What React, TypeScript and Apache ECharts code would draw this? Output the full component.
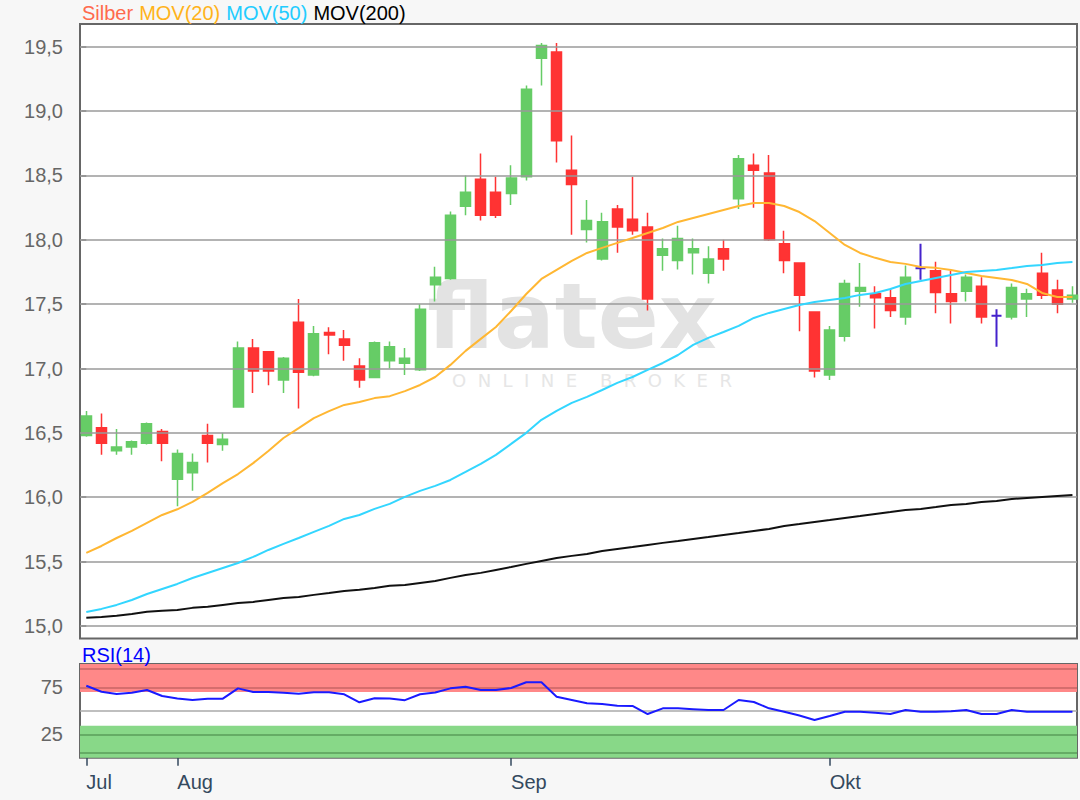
import React, { useEffect, useRef } from "react";
import * as echarts from "echarts";

// Trading days (categories)
const days = [
  "2019-07-24", "2019-07-25", "2019-07-26", "2019-07-29", "2019-07-30", "2019-07-31",
  "2019-08-01", "2019-08-02", "2019-08-05", "2019-08-06", "2019-08-07", "2019-08-08", "2019-08-09",
  "2019-08-12", "2019-08-13", "2019-08-14", "2019-08-15", "2019-08-16", "2019-08-19", "2019-08-20",
  "2019-08-21", "2019-08-22", "2019-08-23", "2019-08-26", "2019-08-27", "2019-08-28", "2019-08-29",
  "2019-08-30",
  "2019-09-02", "2019-09-03", "2019-09-04", "2019-09-05", "2019-09-06", "2019-09-09", "2019-09-10",
  "2019-09-11", "2019-09-12", "2019-09-13", "2019-09-16", "2019-09-17", "2019-09-18", "2019-09-19",
  "2019-09-20", "2019-09-23", "2019-09-24", "2019-09-25", "2019-09-26", "2019-09-27", "2019-09-30",
  "2019-10-01", "2019-10-02", "2019-10-03", "2019-10-04", "2019-10-07", "2019-10-08", "2019-10-09",
  "2019-10-10", "2019-10-11", "2019-10-14", "2019-10-15", "2019-10-16", "2019-10-17", "2019-10-18",
  "2019-10-21", "2019-10-22", "2019-10-23",
];

const openP = [
  16.48, 16.54, 16.36, 16.39, 16.42, 16.51, 16.14, 16.19, 16.48, 16.41,
  16.70, 17.16, 17.13, 16.91, 17.36, 16.95, 17.28, 17.23, 17.02, 16.93,
  17.06, 17.04, 16.99, 17.65, 17.70, 18.26, 18.47, 18.37, 18.36, 18.49,
  19.41, 19.46, 18.54, 18.08, 17.85, 18.24, 18.16, 18.10, 17.88, 17.84,
  17.90, 17.74, 17.93, 18.32, 18.58, 18.52, 17.97, 17.82, 17.44, 16.95,
  17.25, 17.60, 17.58, 17.55, 17.40, 17.78, 17.76, 17.58, 17.60, 17.64,
  17.41, 17.40, 17.54, 17.74, 17.61, 17.54,
];
const closeP = [
  16.63, 16.42, 16.39, 16.43, 16.57, 16.42, 16.34, 16.27, 16.42, 16.45,
  17.16, 16.98, 16.98, 17.08, 16.97, 17.27, 17.26, 17.18, 16.91, 17.20,
  17.17, 17.08, 17.46, 17.71, 18.19, 18.37, 18.19, 18.19, 18.48, 19.17,
  19.51, 18.77, 18.43, 18.15, 18.14, 18.10, 18.07, 17.54, 17.93, 18.01,
  17.93, 17.85, 17.85, 18.63, 18.54, 18.00, 17.84, 17.57, 16.98, 17.30,
  17.66, 17.63, 17.55, 17.45, 17.71, 17.78, 17.59, 17.52, 17.71, 17.40,
  17.41, 17.63, 17.58, 17.57, 17.50, 17.57,
];
const lowP = [
  16.47, 16.33, 16.33, 16.33, 16.41, 16.28, 15.93, 16.05, 16.27, 16.36,
  16.70, 16.81, 16.87, 16.81, 16.69, 16.94, 17.11, 17.06, 16.85, 16.93,
  17.00, 16.95, 16.98, 17.52, 17.69, 18.19, 18.15, 18.17, 18.27, 18.46,
  19.20, 18.60, 18.04, 17.98, 17.84, 17.90, 18.04, 17.45, 17.76, 17.77,
  17.73, 17.66, 17.76, 18.24, 18.25, 17.99, 17.74, 17.29, 16.93, 16.91,
  17.21, 17.48, 17.31, 17.40, 17.34, 17.69, 17.43, 17.35, 17.52, 17.35,
  17.17, 17.38, 17.40, 17.54, 17.43, 17.51,
];
const highP = [
  16.67, 16.65, 16.53, 16.44, 16.58, 16.53, 16.37, 16.34, 16.57, 16.50,
  17.21, 17.23, 17.13, 17.09, 17.54, 17.33, 17.32, 17.30, 17.08, 17.21,
  17.21, 17.16, 17.50, 17.79, 18.22, 18.50, 18.67, 18.49, 18.58, 19.20,
  19.53, 19.53, 18.81, 18.31, 18.21, 18.27, 18.49, 18.21, 18.01, 18.11,
  18.01, 17.95, 18.00, 18.66, 18.67, 18.66, 18.07, 17.82, 17.44, 17.33,
  17.69, 17.82, 17.64, 17.62, 17.80, 17.97, 17.83, 17.76, 17.73, 17.71,
  17.46, 17.66, 17.62, 17.90, 17.69, 17.64,
];

const mov20 = [
  15.567, 15.621, 15.683, 15.738, 15.800, 15.862, 15.906, 15.963, 16.033, 16.110,
  16.180, 16.265, 16.359, 16.460, 16.537, 16.615, 16.669, 16.717, 16.740, 16.770,
  16.785, 16.824, 16.872, 16.934, 17.028, 17.137, 17.230, 17.323, 17.447, 17.579,
  17.696, 17.766, 17.836, 17.898, 17.937, 17.976, 18.014, 18.053, 18.092, 18.139,
  18.170, 18.201, 18.232, 18.263, 18.286, 18.286, 18.263, 18.216, 18.146, 18.053,
  17.960, 17.898, 17.860, 17.828, 17.813, 17.789, 17.782, 17.766, 17.742, 17.719,
  17.704, 17.688, 17.657, 17.587, 17.556, 17.556,
];
const mov50 = [
  15.108, 15.132, 15.163, 15.201, 15.248, 15.287, 15.326, 15.372, 15.411, 15.450,
  15.489, 15.536, 15.590, 15.637, 15.683, 15.730, 15.777, 15.831, 15.862, 15.909,
  15.948, 16.002, 16.049, 16.088, 16.134, 16.196, 16.259, 16.329, 16.414, 16.500,
  16.601, 16.671, 16.733, 16.780, 16.833, 16.888, 16.934, 16.989, 17.043, 17.105,
  17.183, 17.238, 17.284, 17.331, 17.393, 17.432, 17.463, 17.494, 17.517, 17.533,
  17.548, 17.572, 17.587, 17.618, 17.657, 17.680, 17.704, 17.727, 17.750, 17.758,
  17.766, 17.781, 17.797, 17.805, 17.820, 17.828,
];
const mov200 = [
  15.063, 15.070, 15.078, 15.093, 15.109, 15.117, 15.124, 15.140, 15.148, 15.163,
  15.178, 15.186, 15.202, 15.217, 15.225, 15.241, 15.256, 15.272, 15.280, 15.295,
  15.311, 15.318, 15.334, 15.349, 15.373, 15.396, 15.412, 15.435, 15.458, 15.482,
  15.505, 15.528, 15.544, 15.559, 15.582, 15.598, 15.613, 15.629, 15.645, 15.660,
  15.676, 15.691, 15.707, 15.722, 15.738, 15.753, 15.777, 15.792, 15.808, 15.823,
  15.839, 15.854, 15.870, 15.885, 15.901, 15.909, 15.924, 15.940, 15.948, 15.963,
  15.971, 15.986, 15.994, 16.002, 16.010, 16.017,
];
const rsi14 = [
  76.8, 70.4, 68.0, 69.4, 72.2, 65.8, 63.3, 61.6, 63.0, 63.0,
  74.0, 70.2, 70.1, 69.2, 68.2, 69.9, 69.8, 67.7, 59.1, 63.4,
  63.3, 61.4, 67.7, 69.6, 74.0, 75.7, 72.3, 72.3, 74.4, 80.5,
  80.5, 65.1, 61.6, 58.1, 57.3, 55.4, 55.2, 46.6, 52.7, 52.7,
  51.8, 50.9, 50.9, 61.6, 59.4, 52.7, 49.1, 45.0, 40.2, 44.5,
  49.1, 49.1, 48.0, 46.6, 50.9, 49.1, 49.1, 49.5, 50.9, 46.6,
  46.6, 50.9, 49.1, 49.1, 49.1, 49.1,
];

const priceTicks = [15, 15.5, 16, 16.5, 17, 17.5, 18, 18.5, 19, 19.5];
const rsiTicks = [25, 75];
const rsiRedGuides = [95, 75];
const rsiGreenGuides = [25, 5];
const monthNames = ["Jan", "Feb", "Mär", "Apr", "Mai", "Jun", "Jul", "Aug", "Sep", "Okt", "Nov", "Dez"];

const FONT = "Liberation Sans, Arial, sans-serif";
const UP = "#66cc66";
const DOWN = "#ff3333";
const DOJI = "#4422cc";

export default function App() {
  const ref = useRef<HTMLDivElement>(null);

  useEffect(() => {
    if (!ref.current) return;
    const chart = echarts.init(ref.current, null, { renderer: "svg" });

    const monthStarts: number[] = [];
    days.forEach((d, i) => {
      if (i === 0 || d.slice(5, 7) !== days[i - 1].slice(5, 7)) monthStarts.push(i);
    });
    const monthLabel = (v: number) => {
      const d = days[Math.round(v)];
      return d ? monthNames[parseInt(d.slice(5, 7), 10) - 1] : "";
    };

    const candleData = days.map((_, i) => {
      const item: any = { value: [i, openP[i], closeP[i], lowP[i], highP[i]] };
      if (openP[i] === closeP[i]) {
        item.itemStyle = { color: DOJI, color0: DOJI, borderColor: DOJI, borderColor0: DOJI, borderWidth: 2 };
      }
      return item;
    });
    const toXY = (arr: number[]) => arr.map((v, i) => [i, v]);

    const xMin = -0.415;
    const xMax = 65.3;

    const hiddenIcon = {
      color: "transparent", borderColor: "transparent", borderWidth: 0, opacity: 0,
    };

    const option: any = {
      animation: false,
      backgroundColor: "#f7f7f7",
      textStyle: { fontFamily: FONT },
      legend: [
        {
          left: 77,
          top: 3,
          padding: 0,
          itemWidth: 0,
          itemHeight: 20,
          itemGap: 1,
          icon: "rect",
          itemStyle: hiddenIcon,
          lineStyle: { opacity: 0, width: 0 },
          selectedMode: false,
          textStyle: { fontSize: 20, fontFamily: FONT },
          data: [
            { name: "Silber", textStyle: { color: "#ff6a4d" } },
            { name: "MOV(20)", textStyle: { color: "#ffb31a" } },
            { name: "MOV(50)", textStyle: { color: "#22ccff" } },
            { name: "MOV(200)", textStyle: { color: "#000000" } },
          ],
        },
        {
          left: 77,
          top: 645,
          padding: 0,
          itemWidth: 0,
          itemHeight: 20,
          icon: "rect",
          itemStyle: hiddenIcon,
          lineStyle: { opacity: 0, width: 0 },
          selectedMode: false,
          textStyle: { fontSize: 20, fontFamily: FONT, color: "#0000ff" },
          data: [{ name: "RSI(14)" }],
        },
      ],
      grid: [
        {
          left: 80, top: 24, width: 997, height: 614.5,
          show: true, backgroundColor: "#ffffff", borderColor: "#666666", borderWidth: 2,
        },
        {
          left: 80, top: 664, width: 997, height: 93.7,
          show: true, backgroundColor: "#ffffff", borderColor: "#666666", borderWidth: 2,
        },
      ],
      xAxis: [
        {
          gridIndex: 0, type: "value", min: xMin, max: xMax,
          axisLine: { show: false }, axisTick: { show: false }, axisLabel: { show: false },
          splitLine: { show: false },
        },
        {
          gridIndex: 1, type: "value", min: xMin, max: xMax,
          axisLine: { show: false },
          axisTick: {
            show: true, customValues: monthStarts, length: 8,
            lineStyle: { color: "#34495e", width: 1.5 },
          },
          axisLabel: {
            customValues: monthStarts, formatter: monthLabel, align: "left",
            color: "#34495e", fontSize: 20, fontFamily: FONT, margin: 14,
          },
          splitLine: { show: false },
        },
      ],
      yAxis: [
        {
          gridIndex: 0, type: "value", min: 14.902, max: 19.677,
          axisLine: { show: false },
          axisTick: { show: true, customValues: priceTicks, length: 5, lineStyle: { color: "#666666", width: 1.5 } },
          axisLabel: {
            customValues: priceTicks,
            formatter: (v: number) => v.toFixed(1).replace(".", ","),
            color: "#666666", fontSize: 20, fontFamily: FONT, margin: 17,
          },
          splitLine: { show: false },
        },
        {
          gridIndex: 1, type: "value", min: 0, max: 100,
          axisLine: { show: false },
          axisTick: { show: true, customValues: rsiTicks, length: 5, lineStyle: { color: "#666666", width: 1.5 } },
          axisLabel: {
            customValues: rsiTicks, color: "#666666", fontSize: 20, fontFamily: FONT, margin: 17,
          },
          splitLine: { show: false },
        },
      ],
      graphic: [
        {
          type: "group",
          z: 1,
          silent: true,
          children: [
            {
              type: "text",
              x: 572, y: 316,
              style: {
                text: "flatex", fill: "#e3e3e3", fontSize: 90, fontWeight: "bold",
                fontFamily: "DejaVu Sans", align: "center", verticalAlign: "middle",
              },
            },
            {
              type: "text",
              x: 592, y: 380,
              style: {
                text: "O  N  L  I  N  E    B  R  O  K  E  R", fill: "#e6e6e6", fontSize: 18,
                fontFamily: "DejaVu Sans", align: "center", verticalAlign: "middle",
              },
            },
          ],
        },
      ],
      series: [
        {
          name: "grid",
          type: "line",
          xAxisIndex: 0, yAxisIndex: 0,
          data: [],
          z: 2,
          silent: true,
          markLine: {
            silent: true, symbol: ["none", "none"], label: { show: false },
            lineStyle: { color: "#9a9a9a", width: 1.5, type: "solid" },
            data: priceTicks.map((v) => ({ yAxis: v })),
          },
        },
        {
          name: "Silber",
          type: "candlestick",
          xAxisIndex: 0, yAxisIndex: 0,
          z: 4,
          clip: false,
          barWidth: 10.5,
          itemStyle: { color: UP, color0: DOWN, borderColor: UP, borderColor0: DOWN, borderWidth: 1.5 },
          data: candleData,
        },
        {
          name: "MOV(20)", type: "line", xAxisIndex: 0, yAxisIndex: 0, z: 5,
          symbol: "none", lineStyle: { color: "#ffb733", width: 2 }, itemStyle: { color: "#ffb31a" },
          data: toXY(mov20),
        },
        {
          name: "MOV(50)", type: "line", xAxisIndex: 0, yAxisIndex: 0, z: 5,
          symbol: "none", lineStyle: { color: "#33d6ff", width: 2 }, itemStyle: { color: "#22ccff" },
          data: toXY(mov50),
        },
        {
          name: "MOV(200)", type: "line", xAxisIndex: 0, yAxisIndex: 0, z: 5,
          symbol: "none", lineStyle: { color: "#111111", width: 2 }, itemStyle: { color: "#000" },
          data: toXY(mov200),
        },
        {
          name: "RSI(14)", type: "line", xAxisIndex: 1, yAxisIndex: 1, z: 5,
          symbol: "none", lineStyle: { color: "#1a1aff", width: 2 }, itemStyle: { color: "#0000ff" },
          data: toXY(rsi14),
          markArea: {
            silent: true,
            data: [
              [{ yAxis: 70, itemStyle: { color: "#ff8888" } }, { yAxis: 100 }],
              [{ yAxis: 0, itemStyle: { color: "#88d888" } }, { yAxis: 34 }],
            ],
          },
          markLine: {
            silent: true, symbol: ["none", "none"], label: { show: false },
            data: [
              ...rsiRedGuides.map((v) => ({ yAxis: v, lineStyle: { color: "#c86464", width: 1.5, type: "solid" } })),
              { yAxis: 50, lineStyle: { color: "#aaaaaa", width: 1.5, type: "solid" } },
              ...rsiGreenGuides.map((v) => ({ yAxis: v, lineStyle: { color: "#5a9e5a", width: 1.5, type: "solid" } })),
            ],
          },
        },
      ],
    };

    chart.setOption(option);
    return () => chart.dispose();
  }, []);

  return (
    <div
      ref={ref}
      style={{ position: "fixed", left: 0, top: 0, width: 1080, height: 800, background: "#f7f7f7" }}
    />
  );
}
